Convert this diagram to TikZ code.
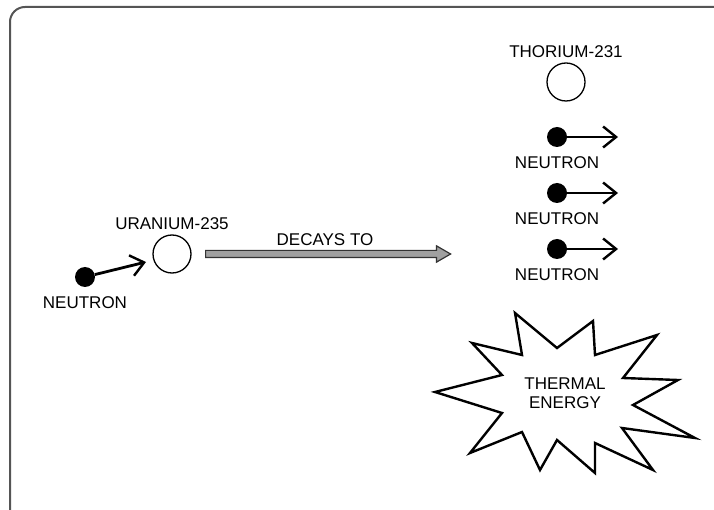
\documentclass[tikz,border=0pt]{standalone}
\usepackage{fontspec}
\setmainfont{Liberation Sans}
\usetikzlibrary{positioning,arrows.meta,shapes.arrows,calc}
\definecolor{FrameGray}{RGB}{85,85,85}
\definecolor{ShaftGray}{RGB}{160,160,160}
\tikzset{
  atom/.style={circle,draw,line width=1.3pt,minimum size=38pt,inner sep=0pt},
  ndot/.style={circle,fill=black,minimum size=20pt,inner sep=0pt},
  lbl/.style={font=\fontsize{17}{19}\selectfont,inner sep=1pt,align=center},
  narr/.style={-{Straight Barb[length=13pt,width=21pt,line width=2.4pt]},line width=2.8pt},
  darr/.style={single arrow,draw=black!80,fill=ShaftGray,line width=1.2pt,
               inner sep=3pt,single arrow head extend=4.5pt,
               single arrow tip angle=60,minimum height=245pt},
  burst/.style={draw,line width=2.4pt,line join=miter},
  frame/.style={draw=FrameGray,line width=2pt,rounded corners=15pt},
}
\begin{document}
\begin{tikzpicture}[x=1pt,y=-1pt,node distance=3pt]
        \useasboundingbox (0,0) rectangle (714,510);
        \draw[frame] (10,540) -- (10,7) -- (740,7);
        % left side
        \node[ndot] (n0) at (85,277) {};
        \node[lbl,below=8pt of n0] (n0l) {NEUTRON};
        \node[atom] (u235) at (172,254) {};
        \node[lbl,above=of u235] (u235l) {URANIUM-235};
        \coordinate (n0tip) at (146,262);
        \draw[narr] (n0) -- (n0tip);
        % decay
        \node[darr,anchor=tail] (decay) at (205,254) {};
        \node[lbl,above=3pt of decay] (decayl) {DECAYS TO};
        % right side
        \node[atom] (th231) at (566,82) {};
        \node[lbl,above=of th231] (th231l) {THORIUM-231};
        \node[ndot] (n1) at (557,137) {};
        \node[ndot] (n2) at (557,193) {};
        \node[ndot] (n3) at (557,249) {};
        \foreach \n in {1,2,3}{
          \node[lbl,below=8pt of n\n] (n\n l) {NEUTRON};
          \coordinate (n\n tip) at ($(n\n)+(61,0)$);
          \draw[narr] (n\n) -- (n\n tip);
        }
        % thermal energy
        \draw[burst] (515,313) -- (557,348) -- (593,321) -- (595,355) -- (657,335)
          -- (623,378) -- (678,380) -- (633,405) -- (695,438) -- (622,428)
          -- (653,470) -- (595,443) -- (595,473) -- (557,440) -- (540,470)
          -- (522,432) -- (470,453) -- (502,413) -- (435,392) -- (502,375)
          -- (472,343) -- (522,355) -- cycle;
        \node[lbl] (heat) at (565,393) {THERMAL\\ENERGY};
      \end{tikzpicture}
\end{document}
